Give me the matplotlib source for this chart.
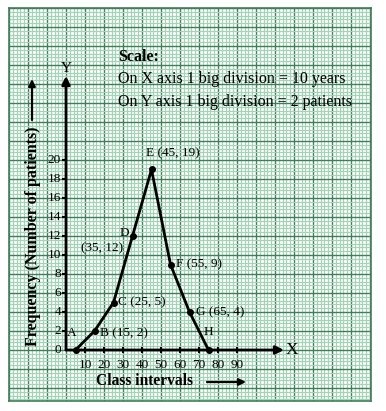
import matplotlib
matplotlib.use("Agg")
import matplotlib.pyplot as plt
from matplotlib.ticker import MultipleLocator

# ---- data ----
class_marks = [5, 15, 25, 35, 45, 55, 65, 75]
frequency = [0, 2, 5, 12, 19, 9, 4, 0]
point_names = ["A", "B", "C", "D", "E", "F", "G", "H"]
x_ticks = [10, 20, 30, 40, 50, 60, 70, 80, 90]
y_ticks = [2, 4, 6, 8, 10, 12, 14, 16, 18, 20]
scale_lines = ["Scale:", "On X axis 1 big division = 10 years",
               "On Y axis 1 big division = 2 patients"]
x_label = "Class intervals"
y_label = "Frequency (Number of patients)"

W, H = 386, 411
fig = plt.figure(figsize=(W / 100, H / 100), dpi=100)
fig.patch.set_facecolor("white")

# paper region in pixels
L, R, T, B = 9, 370.5, 8, 401
ax = fig.add_axes([L / W, 1 - B / H, (R - L) / W, (B - T) / H])
ox, oy = 66, 350           # origin pixel
sx, sy = 1.9, 9.5          # px per unit
def px(x, y):
    return (x - ox) / sx, (oy - y) / sy

ax.set_xlim(px(L, 0)[0], px(R, 0)[0])
ax.set_ylim(px(0, B)[1], px(0, T)[1])

ax.xaxis.set_major_locator(MultipleLocator(10))
ax.xaxis.set_minor_locator(MultipleLocator(2))
ax.yaxis.set_major_locator(MultipleLocator(2))
ax.yaxis.set_minor_locator(MultipleLocator(0.4))
ax.grid(which="minor", color="#a6d3b8", lw=0.9)
ax.grid(which="major", color="#3f7f58", lw=1.0)
ax.tick_params(which="both", length=0, labelbottom=False, labelleft=False)
ax.set_axisbelow(True)
for s in ax.spines.values():
    s.set_color("#3f7f58")
    s.set_linewidth(1.2)

serif = ["Liberation Serif", "DejaVu Serif"]

# axes with arrows
xend = px(284, 0)[0]
yend = px(0, 76)[1]
ax.annotate("", xy=(xend, 0), xytext=(0, 0),
            arrowprops=dict(arrowstyle="-|>", color="black", lw=2,
                            mutation_scale=12, shrinkA=0, shrinkB=0))
ax.annotate("", xy=(0, yend), xytext=(0, 0),
            arrowprops=dict(arrowstyle="-|>", color="black", lw=2,
                            mutation_scale=12, shrinkA=0, shrinkB=0))
ax.text(xend + 1, 0, "X", family=serif, fontsize=12.5, va="center", ha="left")
ax.text(0, yend + 0.1, "Y", family=serif, fontsize=11, va="bottom", ha="center")

# tick marks and labels
ax.vlines(x_ticks, -0.35, 0.35, color="black", lw=1.5)
ax.hlines(y_ticks, -2.2, 0, color="black", lw=1.5)
for t in x_ticks:
    ax.text(t, -0.9, str(t), family=serif, fontsize=9.5, ha="center", va="top")
for t in y_ticks:
    ax.text(-2.6, t, str(t), family=serif, fontsize=9.5, ha="right", va="center")
ax.text(-2.6, 0, "0", family=serif, fontsize=9.5, ha="right", va="center")

# polygon
ax.plot(class_marks, frequency, color="black", lw=2, zorder=5)
ax.plot(class_marks, frequency, "o", color="black", ms=4, zorder=6)

# point labels (offsets in pixels)
offsets = {
    "A": (-9, 11, "left", "bottom", "A"),
    "B": (5, -2, "left", "center", "B (15, 2)"),
    "C": (4, 0, "left", "center", "C (25, 5)"),
    "D": (-13, 3, "left", "center", "D"),
    "E": (-6, 16, "left", "center", "E (45, 19)"),
    "F": (5, 0, "left", "center", "F (55, 9)"),
    "G": (6, 0, "left", "center", "G (65, 4)"),
    "H": (-5, 12, "left", "bottom", "H"),
}
for name, xv, yv in zip(point_names, class_marks, frequency):
    dx, dy, ha, va, txt = offsets[name]
    ax.annotate(txt, (xv, yv), xytext=(dx, dy), textcoords="offset pixels",
                family=serif, fontsize=9.5, ha=ha, va=va)
# extra label for D's coordinates
ax.annotate("(35, 12)", (class_marks[3], frequency[3]), xytext=(-9, -12),
            textcoords="offset pixels", family=serif, fontsize=9.5,
            ha="right", va="center")

# scale text
for i, line in enumerate(scale_lines):
    x0, y0 = px(118, [57, 79, 102][i])
    ax.text(x0, y0, line, family=serif, fontsize=11.5,
            fontweight="bold" if i == 0 else "normal", ha="left", va="center")

# x label with arrow
cx, cy = px(96, 381)
ax.text(cx, cy, x_label, family=serif, fontsize=11.2, fontweight="bold",
        ha="left", va="center")
a0, ay = px(207, 382)
a1, _ = px(246, 382)
ax.annotate("", xy=(a1, ay), xytext=(a0, ay),
            arrowprops=dict(arrowstyle="-|>", color="black", lw=1.6,
                            mutation_scale=10, shrinkA=0, shrinkB=0))

# y label with arrow
lx, ly = px(33, 346)
ax.text(lx, ly, y_label, family=serif, fontsize=11.5, fontweight="bold",
        rotation=90, ha="center", va="bottom")
ax0, ay0 = px(32, 120)
_, ay1 = px(32, 79)
ax.annotate("", xy=(ax0, ay1), xytext=(ax0, ay0),
            arrowprops=dict(arrowstyle="-|>", color="black", lw=1.6,
                            mutation_scale=10, shrinkA=0, shrinkB=0))

fig.savefig("out.png", dpi=100, facecolor="white")
